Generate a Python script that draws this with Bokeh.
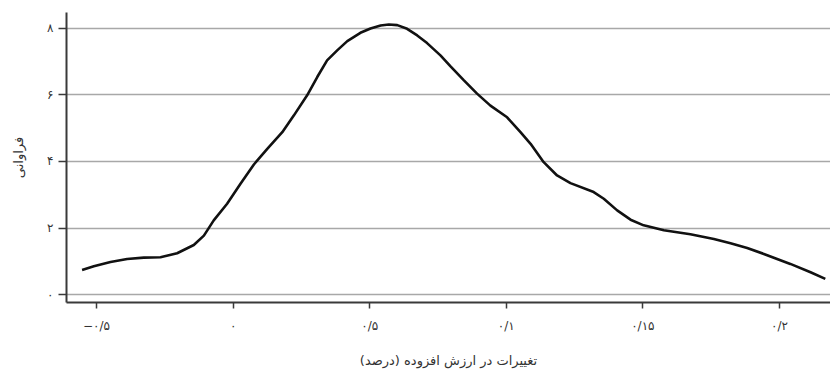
from bokeh.plotting import figure
from bokeh.models import FixedTicker, Range1d
from bokeh.embed import file_html
from bokeh.resources import INLINE

# Data (x: change in value added, y: frequency/density)
x_vals = [-0.0553, -0.0510, -0.0449, -0.0388, -0.0327, -0.0266, -0.0205, -0.0144,
          -0.0107, -0.0071, -0.0022, 0.0027, 0.0076, 0.0125, 0.0180, 0.0222,
          0.0271, 0.0308, 0.0344, 0.0381, 0.0418, 0.0466, 0.0503, 0.0540,
          0.0570, 0.0601, 0.0637, 0.0674, 0.0710, 0.0759, 0.0796, 0.0845,
          0.0893, 0.0942, 0.1003, 0.1052, 0.1089, 0.1137, 0.1186, 0.1235,
          0.1320, 0.1357, 0.1406, 0.1455, 0.1503, 0.1577, 0.1674, 0.1760,
          0.1821, 0.1882, 0.1943, 0.2040, 0.2114, 0.2168]
density = [0.74, 0.85, 0.98, 1.07, 1.11, 1.12, 1.24, 1.49,
           1.77, 2.23, 2.73, 3.33, 3.91, 4.38, 4.88, 5.38,
           5.99, 6.54, 7.04, 7.34, 7.62, 7.87, 8.00, 8.09,
           8.12, 8.10, 7.99, 7.79, 7.56, 7.19, 6.86, 6.44,
           6.04, 5.68, 5.33, 4.88, 4.53, 3.98, 3.58, 3.35,
           3.08, 2.88, 2.53, 2.25, 2.08, 1.93, 1.81, 1.67,
           1.54, 1.40, 1.22, 0.92, 0.67, 0.47]

x_ticks = [-0.05, 0.0, 0.05, 0.1, 0.15, 0.2]
x_tick_labels = ["−۰/۵", "۰", "۰/۵", "۰/۱", "۰/۱۵", "۰/۲"]
y_ticks = [0, 2, 4, 6, 8]
y_tick_labels = ["۰", "۲", "۴", "۶", "۸"]

x_title = "تغییرات در ارزش افزوده (درصد)"
y_title = "فراوانی"

FONT = "DejaVu Sans"

p = figure(width=830, height=374, output_backend="svg", toolbar_location=None,
           x_range=Range1d(-0.061, 0.2187), y_range=Range1d(-0.24, 8.48),
           min_border_left=66, min_border_right=0, min_border_top=12,
           min_border_bottom=72)
p.outline_line_color = None
p.background_fill_color = "white"

p.line(x_vals, density, line_color="#111111", line_width=2.6)

p.xgrid.grid_line_color = None
p.ygrid.grid_line_color = "#a8a8a8"
p.ygrid.grid_line_width = 1.6
p.ygrid.ticker = FixedTicker(ticks=y_ticks)

p.xaxis.ticker = FixedTicker(ticks=x_ticks)
p.yaxis.ticker = FixedTicker(ticks=y_ticks)
p.xaxis.major_label_overrides = {t: l for t, l in zip(x_ticks, x_tick_labels)}
p.yaxis.major_label_overrides = {t: l for t, l in zip(y_ticks, y_tick_labels)}

for ax in (p.xaxis, p.yaxis):
    ax.axis_line_color = "#3a3a3a"
    ax.axis_line_width = 2
    ax.major_tick_line_color = "#3a3a3a"
    ax.major_tick_line_width = 1.5
    ax.major_tick_in = 0
    ax.minor_tick_line_color = None
    ax.major_label_text_font = FONT
    ax.major_label_text_font_size = "12px"
    ax.major_label_text_color = "#333333"
    ax.axis_label_text_font = FONT
    ax.axis_label_text_font_style = "normal"
    ax.axis_label_text_font_size = "13px"
    ax.axis_label_text_color = "#333333"

p.xaxis.major_tick_out = 6
p.yaxis.major_tick_out = 8
p.xaxis.major_label_standoff = 10
p.yaxis.major_label_standoff = 5
p.xaxis.axis_label = x_title
p.yaxis.axis_label = y_title
p.xaxis.axis_label_standoff = 17
p.yaxis.axis_label_standoff = 18

open("out.html", "w").write(file_html(p, INLINE))
